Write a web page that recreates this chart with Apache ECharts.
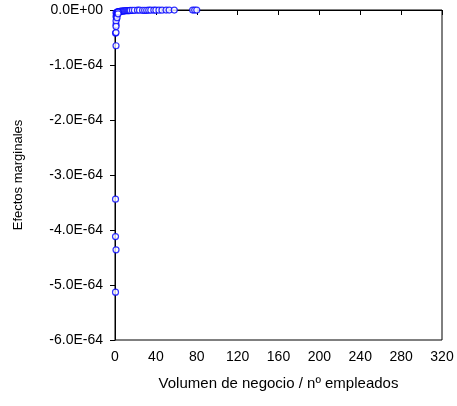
<!DOCTYPE html>
<html>
<head>
<meta charset="utf-8">
<script src="https://cdn.jsdelivr.net/npm/echarts@6/dist/echarts.min.js"></script>
<style>html,body{margin:0;padding:0;background:#fff}#c{width:457px;height:406px}</style>
</head>
<body>
<div id="c"></div>
<script>
// x: Volumen de negocio / nº empleados ; y: efectos marginales in units of 1E-64
var xValues = [0.5, 1, 0.5, 0.5, 1, 0.5, 1, 1, 1.5, 1, 2, 1, 2, 3, 4, 5, 6, 7, 8, 9, 10, 11, 12, 13, 14, 15, 17, 19, 22, 24,
  1, 1.5, 2, 2.5, 3, 1, 2, 3,
  27, 29, 31, 33, 35, 38, 40, 43, 46, 50, 53, 58, 76, 78, 80];
var yValues = [-5.13, -4.36, -4.12, -3.44, -0.65, -0.42, -0.41, -0.27, -0.16, -0.12, -0.08, -0.05, -0.04, -0.03, -0.03, -0.025, -0.02, -0.02, -0.02, -0.015, -0.015, -0.01, -0.01, -0.01, -0.01, -0.008, -0.005, -0.005, -0.004, -0.003,
  -0.2, -0.1, -0.06, -0.05, -0.04, -0.3, -0.14, -0.07,
  -0.005, -0.005, -0.005, -0.004, -0.004, -0.004, -0.003, -0.003, -0.003, -0.002, -0.002, -0.002, -0.002, -0.001, -0.001];
var xTicks = [0, 40, 80, 120, 160, 200, 240, 280, 320];
var yTickLabels = ['-6.0E-64', '-5.0E-64', '-4.0E-64', '-3.0E-64', '-2.0E-64', '-1.0E-64', '0.0E+00'];

var pts = xValues.map(function (x, i) { return [x, yValues[i]]; });
var chart = echarts.init(document.getElementById('c'), null, {renderer: 'canvas'});
var font = 'Liberation Sans, Arial, sans-serif';
chart.setOption({
  animation: false,
  grid: {left: 115, top: 10, right: 15, bottom: 66, show: true, borderColor: '#000', borderWidth: 1, backgroundColor: 'transparent'},
  xAxis: {
    type: 'value', min: 0, max: 320, interval: 40,
    name: 'Volumen de negocio / nº empleados', nameLocation: 'middle', nameGap: 36,
    nameTextStyle: {fontFamily: font, fontSize: 15, color: '#000'},
    axisLine: {lineStyle: {color: '#000'}},
    axisTick: {show: true, length: 5, lineStyle: {color: '#000'}},
    axisLabel: {fontFamily: font, fontSize: 14, color: '#000', margin: 10,
      formatter: function (v) { return xTicks.indexOf(v) >= 0 ? String(v) : ''; }},
    splitLine: {show: false}
  },
  yAxis: {
    type: 'value', min: -6, max: 0, interval: 1,
    name: 'Efectos marginales', nameLocation: 'middle', nameGap: 90, nameRotate: 90,
    nameTextStyle: {fontFamily: font, fontSize: 13, color: '#000'},
    axisLine: {lineStyle: {color: '#000'}},
    axisTick: {show: true, length: 5, lineStyle: {color: '#000'}},
    axisLabel: {fontFamily: font, fontSize: 14, color: '#000', margin: 12,
      formatter: function (v) { var i = Math.round(v + 6); return yTickLabels[i] || ''; }},
    splitLine: {show: false}
  },
  series: [{
    type: 'scatter', data: pts, symbol: 'circle', symbolSize: 6,
    itemStyle: {color: '#fff', borderColor: '#0000ff', borderWidth: 1.2},
    clip: false
  }]
});
</script>
</body>
</html>
